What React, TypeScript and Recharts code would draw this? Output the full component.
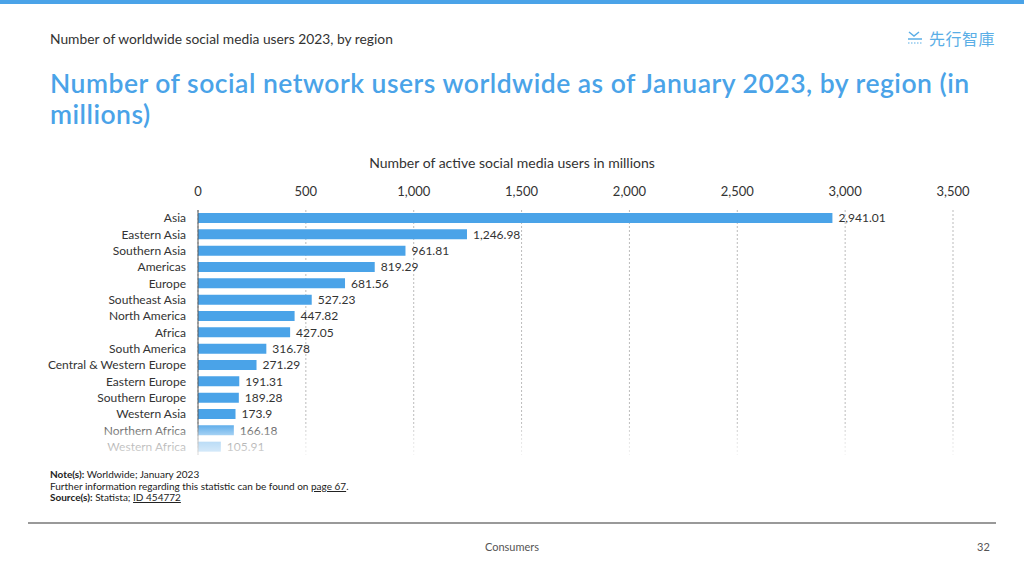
import React from "react";
import { BarChart, Bar, XAxis, YAxis, CartesianGrid, LabelList } from "recharts";

const regions = [
  "Asia",
  "Eastern Asia",
  "Southern Asia",
  "Americas",
  "Europe",
  "Southeast Asia",
  "North America",
  "Africa",
  "South America",
  "Central & Western Europe",
  "Eastern Europe",
  "Southern Europe",
  "Western Asia",
  "Northern Africa",
  "Western Africa",
];
const users = [
  2941.01, 1246.98, 961.81, 819.29, 681.56, 527.23, 447.82, 427.05, 316.78,
  271.29, 191.31, 189.28, 173.9, 166.18, 105.91,
];
const xTicks = [0, 500, 1000, 1500, 2000, 2500, 3000, 3500];

const data = regions.map((r, i) => ({ region: r, users: users[i] }));

const FONT = "Lato, 'Open Sans', sans-serif";
const BLUE = "#4aa3e8";

const fmt = (v: any) =>
  Number(v).toLocaleString("en-US", { maximumFractionDigits: 2 });

export default function App() {
  return (
    <div
      style={{
        position: "absolute",
        left: 0,
        top: 0,
        width: 1024,
        height: 576,
        background: "#fff",
        fontFamily: FONT,
        color: "#333",
        overflow: "hidden",
      }}
    >
      <div style={{ position: "absolute", left: 0, top: 0, width: 1024, height: 4, background: "#4aa3e8" }} />
      <div style={{ position: "absolute", left: 50, top: 30, fontSize: 13.8, color: "#333", whiteSpace: "nowrap" }}>
        Number of worldwide social media users 2023, by region
      </div>
      <div style={{ position: "absolute", left: 906, top: 26, display: "flex", alignItems: "center", color: "#5aaee6" }}>
        <svg width="18" height="16" viewBox="0 0 18 16" style={{ marginRight: 5 }}>
          <path d="M3 2 L8 6 L13 2" stroke="#5aaee6" strokeWidth="1.5" fill="none" />
          <line x1="2" y1="9" x2="16" y2="9" stroke="#5aaee6" strokeWidth="1.5" />
          <line x1="2" y1="13" x2="16" y2="13" stroke="#5aaee6" strokeWidth="1.2" strokeDasharray="1.5 1.5" />
        </svg>
        <span style={{ fontFamily: "'Noto Sans CJK TC', sans-serif", fontSize: 16, letterSpacing: 0.5 }}>先行智庫</span>
      </div>
      <div
        style={{
          position: "absolute",
          left: 50,
          top: 68,
          width: 960,
          fontSize: 26.5,
          letterSpacing: 0.5,
          fontWeight: 600,
          lineHeight: "31px",
          color: "#4aa3e8",
        }}
      >
        Number of social network users worldwide as of January 2023, by region (in millions)
      </div>
      <div style={{ position: "absolute", left: 0, width: 1024, top: 154, textAlign: "center", fontSize: 14, color: "#333" }}>
        Number of active social media users in millions
      </div>

      <div style={{ position: "absolute", left: 0, top: 150 }}>
        <BarChart
          width={1024}
          height={320}
          data={data}
          layout="vertical"
          margin={{ top: 30, right: 71, bottom: 15, left: 0 }}
          barCategoryGap={3}
        >
          <CartesianGrid horizontal={false} vertical={true} stroke="#bbb" strokeDasharray="2 2" />
          <XAxis
            type="number"
            orientation="top"
            domain={[0, 3500]}
            ticks={xTicks}
            tickFormatter={fmt}
            axisLine={false}
            tickLine={false}
            tickSize={6}
            tickMargin={8}
            height={30}
            tick={{ fontSize: 13, fill: "#333", fontFamily: FONT }}
            interval={0}
          />
          <YAxis
            type="category"
            dataKey="region"
            width={198}
            axisLine={{ stroke: "#555", strokeWidth: 1 }}
            tickLine={false}
            tickSize={0}
            tickMargin={12}
            interval={0}
            tick={{ fontSize: 12, fill: "#333", fontFamily: FONT }}
          />
          <Bar dataKey="users" fill={BLUE} isAnimationActive={false} barSize={10}>
            <LabelList
              dataKey="users"
              position="right"
              offset={6}
              formatter={fmt}
              style={{ fontSize: 12, fill: "#333", fontFamily: FONT }}
            />
          </Bar>
        </BarChart>
      </div>
      <div
        style={{
          position: "absolute",
          left: 0,
          top: 422,
          width: 1024,
          height: 36,
          background: "linear-gradient(to bottom, rgba(255,255,255,0) 0%, rgba(255,255,255,0.55) 40%, rgba(255,255,255,0.85) 100%)",
        }}
      />

      <div style={{ position: "absolute", left: 50, top: 469, fontSize: 10, lineHeight: "11.5px", color: "#222" }}>
        <div>
          <b>Note(s):</b> Worldwide; January 2023
        </div>
        <div>
          Further information regarding this statistic can be found on <u>page 67</u>.
        </div>
        <div>
          <b>Source(s):</b> Statista; <u>ID 454772</u>
        </div>
      </div>

      <div style={{ position: "absolute", left: 28, top: 522, width: 968, height: 1.5, background: "#999" }} />
      <div style={{ position: "absolute", left: 0, width: 1024, top: 540, textAlign: "center", fontSize: 11, color: "#555" }}>
        Consumers
      </div>
      <div style={{ position: "absolute", left: 977, top: 540, fontSize: 11, color: "#555" }}>32</div>
    </div>
  );
}
